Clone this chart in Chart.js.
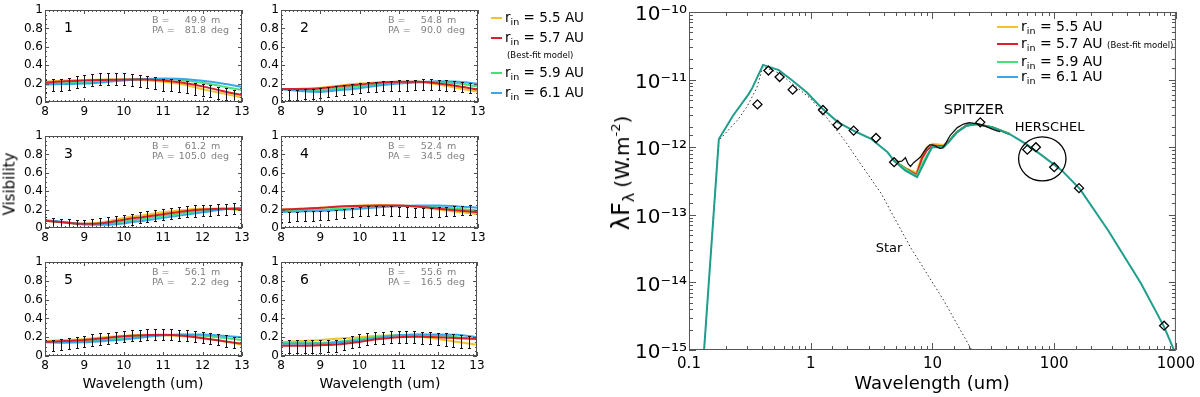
<!DOCTYPE html>
<html>
<head>
<meta charset="utf-8">
<script src="https://cdn.jsdelivr.net/npm/chart.js@4/dist/chart.umd.min.js"></script>
<style>
  body { margin: 0; background: #fff; font-family: "DejaVu Sans", sans-serif; }
  #page { position: relative; width: 1200px; height: 397px; overflow: hidden; background: #fff; }
  canvas { position: absolute; }
  .txt { position: absolute; white-space: nowrap; color: #000; line-height: 1; }
  .sw { display: inline-block; height: 2px; vertical-align: middle; margin-right: 3px; }
  .sub { font-size: 9.5px; position: relative; top: 3px; }
</style>
</head>
<body>
<div id="page"></div>
<script>
// ---- visibility panels ----
const visWave = [8, 8.5, 9, 9.5, 10, 10.5, 11, 11.5, 12, 12.5, 13];
const rin55 = [
  [0.22, 0.235, 0.24, 0.245, 0.245, 0.24, 0.22, 0.19, 0.14, 0.095, 0.05],
  [0.14, 0.145, 0.155, 0.18, 0.2, 0.215, 0.22, 0.215, 0.19, 0.15, 0.11],
  [0.08, 0.06, 0.045, 0.065, 0.11, 0.14, 0.17, 0.195, 0.21, 0.21, 0.19],
  [0.2, 0.21, 0.22, 0.235, 0.245, 0.25, 0.245, 0.23, 0.2, 0.175, 0.15],
  [0.16, 0.17, 0.18, 0.2, 0.215, 0.225, 0.22, 0.21, 0.19, 0.16, 0.12],
  [0.15, 0.16, 0.17, 0.185, 0.2, 0.215, 0.22, 0.21, 0.18, 0.15, 0.12]
];
const rin57 = [
  [0.21, 0.225, 0.235, 0.24, 0.245, 0.245, 0.235, 0.21, 0.17, 0.12, 0.075],
  [0.14, 0.14, 0.15, 0.17, 0.19, 0.21, 0.22, 0.22, 0.2, 0.17, 0.135],
  [0.08, 0.06, 0.045, 0.055, 0.09, 0.12, 0.15, 0.18, 0.2, 0.21, 0.205],
  [0.2, 0.21, 0.22, 0.235, 0.24, 0.245, 0.245, 0.23, 0.21, 0.19, 0.17],
  [0.15, 0.16, 0.17, 0.19, 0.21, 0.22, 0.225, 0.215, 0.19, 0.16, 0.13],
  [0.11, 0.11, 0.115, 0.125, 0.15, 0.18, 0.2, 0.205, 0.2, 0.19, 0.18]
];
const rin59 = [
  [0.2, 0.205, 0.21, 0.225, 0.24, 0.25, 0.25, 0.235, 0.21, 0.17, 0.13],
  [0.14, 0.13, 0.13, 0.15, 0.17, 0.19, 0.21, 0.22, 0.215, 0.2, 0.17],
  [0.08, 0.06, 0.04, 0.045, 0.07, 0.1, 0.13, 0.16, 0.19, 0.21, 0.215],
  [0.19, 0.195, 0.2, 0.21, 0.22, 0.235, 0.24, 0.24, 0.225, 0.21, 0.19],
  [0.15, 0.15, 0.155, 0.17, 0.19, 0.21, 0.22, 0.225, 0.215, 0.195, 0.17],
  [0.14, 0.14, 0.14, 0.155, 0.18, 0.205, 0.22, 0.225, 0.22, 0.2, 0.18]
];
const rin61 = [
  [0.19, 0.195, 0.2, 0.215, 0.235, 0.25, 0.255, 0.25, 0.23, 0.2, 0.165],
  [0.14, 0.12, 0.11, 0.13, 0.15, 0.18, 0.2, 0.215, 0.225, 0.22, 0.2],
  [0.085, 0.065, 0.04, 0.035, 0.05, 0.08, 0.11, 0.14, 0.17, 0.2, 0.22],
  [0.175, 0.18, 0.185, 0.195, 0.21, 0.225, 0.24, 0.245, 0.245, 0.235, 0.22],
  [0.145, 0.14, 0.145, 0.16, 0.175, 0.2, 0.22, 0.23, 0.23, 0.215, 0.2],
  [0.13, 0.13, 0.13, 0.145, 0.165, 0.195, 0.22, 0.23, 0.23, 0.225, 0.2]
];
const obsWave = [8.0, 8.2, 8.4, 8.6, 8.8, 9.0, 9.2, 9.4, 9.6, 9.8, 10.0, 10.2, 10.4,
                 10.6, 10.8, 11.0, 11.2, 11.4, 11.6, 11.8, 12.0, 12.2, 12.4, 12.6, 12.8, 13.0];
const obsVis = [
  [0.17, 0.18, 0.19, 0.20, 0.22, 0.23, 0.24, 0.25, 0.25, 0.25, 0.245, 0.24, 0.23, 0.22, 0.21, 0.19, 0.18, 0.17, 0.16, 0.14, 0.13, 0.12, 0.10, 0.09, 0.07, 0.06],
  [0.08, 0.08, 0.08, 0.085, 0.09, 0.10, 0.11, 0.12, 0.13, 0.14, 0.15, 0.16, 0.165, 0.17, 0.175, 0.18, 0.18, 0.185, 0.19, 0.19, 0.185, 0.18, 0.17, 0.16, 0.15, 0.14],
  [0.06, 0.05, 0.04, 0.035, 0.03, 0.03, 0.035, 0.045, 0.055, 0.07, 0.08, 0.095, 0.11, 0.12, 0.135, 0.145, 0.155, 0.165, 0.175, 0.185, 0.19, 0.195, 0.2, 0.205, 0.21, 0.21],
  [0.12, 0.12, 0.125, 0.13, 0.13, 0.135, 0.14, 0.15, 0.16, 0.17, 0.18, 0.185, 0.19, 0.19, 0.185, 0.18, 0.175, 0.17, 0.17, 0.17, 0.175, 0.18, 0.185, 0.19, 0.195, 0.2],
  [0.11, 0.115, 0.12, 0.13, 0.14, 0.155, 0.17, 0.18, 0.19, 0.2, 0.21, 0.215, 0.22, 0.225, 0.225, 0.225, 0.225, 0.22, 0.215, 0.21, 0.2, 0.19, 0.175, 0.16, 0.145, 0.125],
  [0.10, 0.10, 0.10, 0.10, 0.10, 0.10, 0.105, 0.11, 0.125, 0.145, 0.165, 0.18, 0.19, 0.195, 0.2, 0.2, 0.2, 0.2, 0.195, 0.19, 0.185, 0.175, 0.165, 0.155, 0.145, 0.13]
];
const obsErr = [0.065, 0.055, 0.06, 0.05, 0.06, 0.065];
const panelNum = ["1", "2", "3", "4", "5", "6"];
const baselineM = ["49.9", "54.8", "61.2", "52.4", "56.1", "55.6"];
const posAngle = ["81.8", "90.0", "105.0", "34.5", "2.2", "16.5"];
const visTicks = [0, 0.2, 0.4, 0.6, 0.8, 1];
const waveTicks = [8, 9, 10, 11, 12, 13];

// ---- SED ----
const sedWave = [0.133, 0.176, 0.229, 0.309, 0.332, 0.406, 0.547, 0.702, 0.93, 1.23, 1.68, 2.3, 3.13,
                 4.28, 4.84, 6.0, 7.48, 9.0, 9.9, 12.3, 13.5, 15.8, 19.0, 23.0, 31.3, 42.8, 58.5,
                 79.8, 116, 163, 277, 517, 800, 964, 1000];
const sedFlux61 = [1e-15, 1.32e-12, 2.9e-12, 6.1e-12, 7.6e-12, 1.65e-11, 1.38e-11, 9.8e-12, 6.45e-12,
                   3.8e-12, 2.33e-12, 1.72e-12, 1.33e-12, 8.4e-13, 6.3e-13, 4.5e-13, 3.6e-13, 7.1e-13,
                   1.0e-12, 1.0e-12, 1.18e-12, 1.65e-12, 2.08e-12, 2.2e-12, 1.96e-12, 1.57e-12, 1.12e-12,
                   7.5e-13, 4.5e-13, 2.4e-13, 5.9e-14, 9.6e-15, 2.2e-15, 1e-15, 6e-16];
const midWave = [4.84, 6.0, 7.4, 8.2, 9.0, 10.0, 12.3, 13.5, 15.8, 19.0, 23.0, 31.3, 42.8];
const midFlux55 = [6.3e-13, 4.9e-13, 4.2e-13, 7.6e-13, 1.0e-12, 1.12e-12, 1.08e-12, 1.22e-12, 1.68e-12, 2.1e-12, 2.2e-12, 1.97e-12, 1.58e-12];
const midFlux57 = [6.3e-13, 4.85e-13, 3.9e-13, 6.8e-13, 9.0e-13, 1.06e-12, 1.03e-12, 1.2e-12, 1.66e-12, 2.09e-12, 2.2e-12, 1.96e-12, 1.57e-12];
const midFlux59 = [6.3e-13, 4.8e-13, 3.7e-13, 5.6e-13, 7.6e-13, 1.02e-12, 1.0e-12, 1.18e-12, 1.65e-12, 2.08e-12, 2.2e-12, 1.96e-12, 1.57e-12];
const starWave = [0.133, 0.175, 0.25, 0.3, 0.36, 0.405, 0.55, 0.7, 1.0, 1.3, 1.9, 2.6, 3.8, 6.6, 12.3, 21];
const starFlux = [1e-15, 1.25e-12, 2.5e-12, 4.0e-12, 7.5e-12, 1.55e-11, 1.25e-11, 8.8e-12, 5.2e-12,
                  3.0e-12, 1.26e-12, 5.5e-13, 2.05e-13, 3.3e-14, 5.5e-15, 1e-15];
const spitzerWave = [5.2, 5.6, 6.0, 6.3, 6.6, 7.0, 7.5, 8.0, 8.5, 9.0, 9.5, 10.0, 10.5, 11.0, 11.5,
                     12.0, 12.5, 14, 16, 18, 20, 22, 25, 28, 31, 34, 36];
const spitzerFlux = [6.1e-13, 6.2e-13, 7.0e-13, 5.7e-13, 5.2e-13, 5.9e-13, 6.5e-13, 7.2e-13, 8.5e-13,
                     9.8e-13, 1.08e-12, 1.08e-12, 1.05e-12, 1.0e-12, 9.6e-13, 9.7e-13, 1.05e-12, 1.5e-12,
                     1.95e-12, 2.2e-12, 2.3e-12, 2.25e-12, 2.15e-12, 2.0e-12, 1.85e-12, 1.75e-12, 1.7e-12];
const photWave = [0.365, 0.449, 0.555, 0.711, 1.26, 1.66, 2.25, 3.44, 4.84, 24.7, 60.2, 70.8, 100, 160, 800];
const photFlux = [4.3e-12, 1.36e-11, 1.09e-11, 7.1e-12, 3.55e-12, 2.13e-12, 1.76e-12, 1.37e-12, 6.0e-13,
                  2.33e-12, 9.2e-13, 1.0e-12, 5.06e-13, 2.48e-13, 2.29e-15];
const rinLabels = ["5.5", "5.7", "5.9", "6.1"];
const modelColors = ["#f2c230", "#d8202e", "#45e07a", "#3aa6ec"];

const FONT = "DejaVu Sans";
const page = document.getElementById("page");

function addCanvas(left, top, w, h) {
  const c = document.createElement("canvas");
  c.width = w; c.height = h;
  c.style.left = left + "px"; c.style.top = top + "px";
  c.style.width = w + "px"; c.style.height = h + "px";
  page.appendChild(c);
  return c;
}

function addText(html, left, top, css) {
  const d = document.createElement("div");
  d.className = "txt";
  d.innerHTML = html;
  d.style.left = left + "px";
  d.style.top = top + "px";
  if (css) d.style.cssText += css;
  page.appendChild(d);
  return d;
}

function pairs(xs, ys) {
  return xs.map((x, i) => ({ x: x, y: ys[i] }));
}

// frame, inward ticks, labels and error bars for the small panels
const panelDecor = {
  id: "panelDecor",
  afterDatasetsDraw(chart, args, opts) {
    const p = opts.panel;
    const ctx = chart.ctx, a = chart.chartArea;
    const xs = chart.scales.x, ys = chart.scales.y;
    ctx.save();
    ctx.beginPath();
    ctx.rect(a.left, a.top, a.right - a.left, a.bottom - a.top);
    ctx.clip();
    ctx.strokeStyle = "#151515";
    ctx.lineWidth = 1;
    obsWave.forEach((w, i) => {
      const v = obsVis[p][i], e = obsErr[p];
      const px = Math.round(xs.getPixelForValue(w)) + 0.5;
      const yl = Math.round(ys.getPixelForValue(v - e)) + 0.5;
      const yh = Math.round(ys.getPixelForValue(v + e)) + 0.5;
      ctx.beginPath();
      ctx.moveTo(px, yl); ctx.lineTo(px, yh);
      ctx.moveTo(px - 1.5, yl); ctx.lineTo(px + 1.5, yl);
      ctx.moveTo(px - 1.5, yh); ctx.lineTo(px + 1.5, yh);
      ctx.stroke();
    });
    ctx.restore();
  },
  afterDraw(chart, args, opts) {
    const p = opts.panel;
    const ctx = chart.ctx, a = chart.chartArea;
    const xs = chart.scales.x, ys = chart.scales.y;
    ctx.save();
    ctx.strokeStyle = "#505050";
    ctx.lineWidth = 1;
    ctx.strokeRect(a.left + 0.5, a.top + 0.5, a.right - a.left - 1, a.bottom - a.top - 1);
    ctx.beginPath();
    for (let k = 0; k <= 50; k++) {
      const px = Math.round(xs.getPixelForValue(8 + k * 0.1)) + 0.5;
      const len = k % 10 === 0 ? 4 : 2;
      ctx.moveTo(px, a.bottom); ctx.lineTo(px, a.bottom - len);
      ctx.moveTo(px, a.top); ctx.lineTo(px, a.top + len);
    }
    for (let k = 0; k <= 20; k++) {
      const py = Math.round(ys.getPixelForValue(k * 0.05)) + 0.5;
      const len = k % 4 === 0 ? 4 : 2;
      ctx.moveTo(a.left, py); ctx.lineTo(a.left + len, py);
      ctx.moveTo(a.right, py); ctx.lineTo(a.right - len, py);
    }
    ctx.stroke();

    ctx.fillStyle = "#000";
    ctx.textBaseline = "middle";
    ctx.font = "14px '" + FONT + "'";
    ctx.textAlign = "left";
    ctx.fillText(panelNum[p], a.left + 19, a.top + 18);

    // B / PA block: label, right-aligned value, unit
    ctx.fillStyle = "#808080";
    ctx.font = "9.5px '" + FONT + "'";
    ctx.fillText("B =", a.left + 107, a.top + 11);
    ctx.fillText("PA =", a.left + 107, a.top + 21);
    ctx.textAlign = "right";
    ctx.fillText(baselineM[p], a.left + 161, a.top + 11);
    ctx.fillText(posAngle[p], a.left + 161, a.top + 21);
    ctx.textAlign = "left";
    ctx.fillText("m", a.left + 166, a.top + 11);
    ctx.fillText("deg", a.left + 166, a.top + 21);
    ctx.restore();
  }
};

const panelBox = [
  [45, 10, 242, 102], [281, 10, 478, 102],
  [45, 136, 242, 228], [281, 136, 478, 228],
  [45, 262, 242, 356], [281, 262, 477, 356]
];

panelBox.forEach((box, p) => {
  const [L, T, R, B] = box;
  const padL = 44, padT = 10, padR = 12, padB = 20;
  const cv = addCanvas(L - padL, T - padT, R - L + padL + padR, B - T + padT + padB);
  // first dataset is drawn on top
  const models = [
    { data: rin57[p], color: modelColors[1] },
    { data: rin61[p], color: modelColors[3] },
    { data: rin59[p], color: modelColors[2] },
    { data: rin55[p], color: modelColors[0] }
  ];
  new Chart(cv, {
    type: "line",
    data: {
      datasets: models.map(m => ({
        data: pairs(visWave, m.data),
        borderColor: m.color,
        borderWidth: 2,
        pointRadius: 0,
        cubicInterpolationMode: "monotone",
        fill: false,
        clip: 0
      }))
    },
    options: {
      responsive: false,
      animation: false,
      devicePixelRatio: 1,
      layout: { padding: { left: 0, top: padT, right: padR, bottom: 0 } },
      plugins: { legend: { display: false }, tooltip: { enabled: false }, panelDecor: { panel: p } },
      scales: {
        x: {
          type: "linear", min: 8, max: 13,
          afterFit: s => { s.height = padB; },
          afterBuildTicks: s => { s.ticks = waveTicks.map(v => ({ value: v })); },
          grid: { display: false, drawTicks: false },
          border: { display: false },
          ticks: { font: { family: FONT, size: 12 }, color: "#000", padding: 3, maxRotation: 0, autoSkip: false }
        },
        y: {
          type: "linear", min: 0, max: 1,
          afterFit: s => { s.width = padL; },
          afterBuildTicks: s => { s.ticks = visTicks.map(v => ({ value: v })); },
          grid: { display: false, drawTicks: false },
          border: { display: false },
          ticks: { font: { family: FONT, size: 12 }, color: "#000", padding: 2, autoSkip: false,
                   callback: v => String(v) }
        }
      }
    },
    plugins: [panelDecor]
  });
});

// ---- SED chart ----
const supMap = { "-": "\u207B", "0": "\u2070", "1": "\u00B9", "2": "\u00B2", "3": "\u00B3",
                 "4": "\u2074", "5": "\u2075", "6": "\u2076", "7": "\u2077", "8": "\u2078", "9": "\u2079" };
function isDecade(v) {
  const l = Math.log10(v);
  return Math.abs(l - Math.round(l)) < 1e-6;
}

const sedDecor = {
  id: "sedDecor",
  afterDraw(chart) {
    const ctx = chart.ctx, a = chart.chartArea;
    const xs = chart.scales.x, ys = chart.scales.y;
    ctx.save();
    ctx.strokeStyle = "#555";
    ctx.lineWidth = 1;
    ctx.strokeRect(a.left + 0.5, a.top + 0.5, a.right - a.left - 1, a.bottom - a.top - 1);
    ctx.beginPath();
    xs.ticks.forEach(t => {
      const px = Math.round(xs.getPixelForValue(t.value)) + 0.5;
      const len = isDecade(t.value) ? 7 : 4;
      ctx.moveTo(px, a.bottom); ctx.lineTo(px, a.bottom - len);
      ctx.moveTo(px, a.top); ctx.lineTo(px, a.top + len);
    });
    ys.ticks.forEach(t => {
      const py = Math.round(ys.getPixelForValue(t.value)) + 0.5;
      const len = isDecade(t.value) ? 7 : 4;
      ctx.moveTo(a.left, py); ctx.lineTo(a.left + len, py);
      ctx.moveTo(a.right, py); ctx.lineTo(a.right - len, py);
    });
    ctx.stroke();

    // Herschel ellipse
    const x1 = xs.getPixelForValue(51), x2 = xs.getPixelForValue(125);
    const y1 = ys.getPixelForValue(1.42e-12), y2 = ys.getPixelForValue(3.18e-13);
    ctx.strokeStyle = "#000";
    ctx.lineWidth = 1.3;
    ctx.beginPath();
    ctx.ellipse((x1 + x2) / 2, (y1 + y2) / 2, (x2 - x1) / 2, (y2 - y1) / 2, 0, 0, Math.PI * 2);
    ctx.stroke();

    ctx.fillStyle = "#000";
    ctx.textBaseline = "middle";
    ctx.textAlign = "left";
    ctx.font = "14.5px '" + FONT + "'";
    ctx.fillText("SPITZER", xs.getPixelForValue(12.4), ys.getPixelForValue(3.47e-12));
    ctx.font = "13px '" + FONT + "'";
    ctx.fillText("HERSCHEL", xs.getPixelForValue(47.5), ys.getPixelForValue(1.95e-12));
    ctx.fillText("Star", xs.getPixelForValue(3.42), ys.getPixelForValue(3.19e-14));
    ctx.restore();
  }
};

const sedCanvas = addCanvas(600, 0, 600, 397);
const lineBase = { pointRadius: 0, fill: false, tension: 0, clip: 0 };
new Chart(sedCanvas, {
  type: "line",
  data: {
    datasets: [
      { ...lineBase, data: pairs(photWave, photFlux), showLine: false, pointStyle: "rectRot",
        pointRadius: 4.5, pointBorderColor: "#000", pointBackgroundColor: "rgba(255,255,255,0)",
        pointBorderWidth: 1.3, clip: 6 },
      { ...lineBase, data: pairs(spitzerWave, spitzerFlux), borderColor: "#111", borderWidth: 1.3 },
      { ...lineBase, data: pairs(sedWave, sedFlux61), borderColor: "#1f9e8c", borderWidth: 2 },
      { ...lineBase, data: pairs(midWave, midFlux59), borderColor: modelColors[2], borderWidth: 2 },
      { ...lineBase, data: pairs(midWave, midFlux57), borderColor: modelColors[1], borderWidth: 2 },
      { ...lineBase, data: pairs(midWave, midFlux55), borderColor: modelColors[0], borderWidth: 2 },
      { ...lineBase, data: pairs(starWave, starFlux), borderColor: "#333", borderWidth: 1, borderDash: [1.5, 2.5] }
    ]
  },
  options: {
    responsive: false,
    animation: false,
    devicePixelRatio: 1,
    layout: { padding: { left: 0, top: 11, right: 18, bottom: 0 } },
    plugins: { legend: { display: false }, tooltip: { enabled: false } },
    scales: {
      x: {
        type: "logarithmic", min: 0.1, max: 1000,
        afterFit: s => { s.height = 47; },
        grid: { display: false, drawTicks: false },
        border: { display: false },
        ticks: {
          font: { family: FONT, size: 15 }, color: "#000", padding: 5, maxRotation: 0, autoSkip: false,
          callback: v => {
            if (!isDecade(v)) return "";
            const e = Math.round(Math.log10(v));
            return e < 0 ? "0.1" : String(Math.pow(10, e));
          }
        }
      },
      y: {
        type: "logarithmic", min: 1e-15, max: 1e-10,
        afterFit: s => { s.width = 89; },
        grid: { display: false, drawTicks: false },
        border: { display: false },
        ticks: {
          font: { family: FONT, size: 20, lineHeight: 1 }, color: "#000", padding: 2, autoSkip: false,
          labelOffset: 3,
          callback: v => {
            if (!isDecade(v)) return "";
            const e = String(Math.round(Math.log10(v)));
            return "10" + e.split("").map(c => supMap[c]).join("");
          }
        }
      }
    }
  },
  plugins: [sedDecor]
});

// ---- titles and legends ----
addText("Visibility", 10, 184, "font-size:15px;transform:translate(-50%,-50%) rotate(-90deg);");
addText("Wavelength (um)", 143, 383, "font-size:14px;transform:translate(-50%,-50%);");
addText("Wavelength (um)", 380, 383, "font-size:14px;transform:translate(-50%,-50%);");
addText("Wavelength (um)", 932, 383, "font-size:18px;transform:translate(-50%,-50%);");
addText('<span style="font-size:24px">&lambda;F</span><span style="font-size:16px;position:relative;top:5px">&lambda;</span>' +
        ' <span style="font-size:20px">(W.m</span><span style="font-size:13px;position:relative;top:-9px">-2</span>' +
        '<span style="font-size:20px">)</span>',
        621, 173, "transform:translate(-50%,-50%) rotate(-90deg);");

const leftRows = [17, 37, 72, 92];
const rightRows = [26, 43, 61, 76];
rinLabels.forEach((r, i) => {
  const label = 'r<span class="sub">in</span> = ' + r + " AU";
  addText('<span class="sw" style="width:11px;background:' + modelColors[i] + '"></span>' + label,
          491, leftRows[i] - 7, "font-size:13.5px;line-height:14px;");
  const extra = i === 1 ? ' <span style="font-size:8.5px">(Best-fit model)</span>' : "";
  addText('<span class="sw" style="width:21px;background:' + modelColors[i] + '"></span>' + label + extra,
          997, rightRows[i] - 7, "font-size:14px;line-height:14px;");
});
addText("(Best-fit model)", 507, 50, "font-size:8.5px;line-height:10px;");
</script>
</body>
</html>
